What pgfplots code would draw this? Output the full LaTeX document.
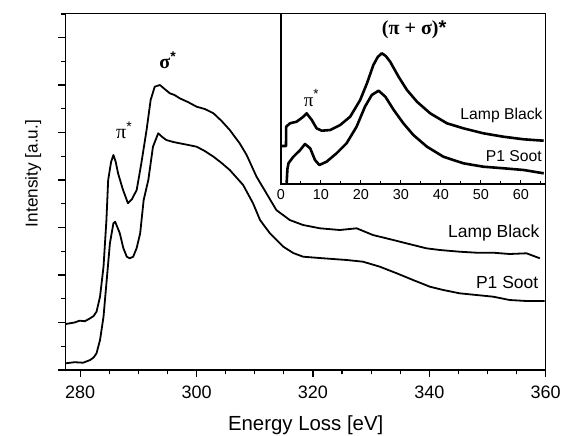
\documentclass[border=0pt]{standalone}
\usepackage{fontspec}
\setmainfont{Liberation Sans}
\newfontfamily\grk{Liberation Serif}
\usepackage{pgfplots}
\pgfplotsset{compat=1.18}

% main EELS spectra (x: energy loss in eV, y: intensity in arbitrary units)
\pgfplotstableread{
x y
277.5 46
279.0 47.5
279.9 49.3
280.8 48.8
281.7 51.7
282.3 54.0
282.8 58.3
283.4 73.3
284.0 103.3
284.5 150
284.8 190
285.3 208
285.7 215
286.1 208
286.5 196.7
287.3 181
288.2 166.7
288.9 171
289.7 180
290.5 206.7
291.4 240
292.1 270
292.8 283.3
293.7 285
294.5 281
295.4 276.7
296.2 275
297.1 271.7
298.5 268
300.0 263.3
301.4 261
302.9 256.7
304.3 249
305.7 240
307.4 226.7
308.6 215
310.3 193.3
312.0 176.7
313.7 160
316.0 150
318.3 145
321.2 141.7
324.6 140
327.5 141.7
330.3 135
333.8 130
337.2 125
339.5 121.7
341.8 120
345.2 118.3
348.1 117.3
351.0 117.3
353.8 116
356.7 116.7
359.0 111.7
}\lampblack

\pgfplotstableread{
x y
277.5 6.7
279.0 7.8
280.5 7.3
281.7 10
282.3 12.5
282.8 16.7
283.4 30
284.0 53.3
284.5 86.7
285.1 126.7
285.7 146.7
286.0 148.3
286.8 136.7
287.4 122
288.0 113.3
288.5 111.7
289.1 113.3
289.7 122
290.3 136.7
290.9 170
291.7 190
292.5 223.3
293.4 236.7
294.1 233
294.8 230
296.0 228
297.1 226.7
298.6 225
300.0 223.3
301.4 219
302.9 213.3
304.3 207
305.7 200
308.0 185
309.7 166.7
310.9 150
312.6 136.7
314.9 123.3
316.6 117
318.3 113.3
321.8 111.7
325.8 110
328.6 108.3
331.5 103.3
334.4 96.7
337.2 90
340.1 83.3
342.4 80
345.2 76.7
348.1 75
351.0 73.3
353.8 70
356.7 69
359.8 69
}\psoot

% inset: low-loss spectra
\pgfplotstableread{
x y
0.0 38
1.25 38
1.3 57.3
2.25 60.7
3.9 62.3
5.6 67.3
6.4 70.7
7.7 64
8.9 55.7
10.2 53.3
12.3 54
14.8 59
17.3 67.3
19.8 84
21.5 100.7
23.1 119
24.2 127
25.2 130.7
26.2 128
27.3 122.3
29.4 107.3
31.5 94
34.0 82.3
37.3 70.7
41.5 60.7
45.6 55.7
50.6 50.7
55.6 47.3
60.7 44.7
65.7 43.3
}\inlamp

\pgfplotstableread{
x y
1.4 0
1.6 15
1.9 21
3.1 27.3
4.8 34
6.0 40
7.3 35.7
8.5 24
9.6 19
11.4 22.3
13.9 30.7
16.4 40.7
18.9 57.3
21.0 77.3
22.7 89
24.4 93.3
26.1 87.3
28.2 74
30.6 60.7
33.1 49
36.5 37.3
40.6 27.3
45.6 20.7
50.6 17.3
55.7 15.7
60.7 14
65.7 10.7
}\insoot

\begin{document}
\begin{tikzpicture}
\useasboundingbox (-32.85pt,-32.5pt) rectangle (248.15pt,185pt);
\begin{axis}[
  at={(0pt,0pt)}, anchor=south west,
  scale only axis,
  width=240pt, height=178.35pt,
  xmin=277.5, xmax=360,
  ymin=0, ymax=356.7,
  xtick={280,300,...,360},
  minor xtick={285,290,295,305,310,315,325,330,335,345,350,355},
  ytick={0,47.5,95,142.5,190,237.5,285,332.5},
  minor ytick={23.75,71.25,118.75,166.25,213.75,261.25,308.75,356},
  yticklabels={},
  tick pos=left,
  tick align=outside,
  major tick length=3.6pt,
  minor tick length=2.2pt,
  axis line style={line width=0.75pt},
  every tick/.style={black, line width=0.6pt},
  /pgf/number format/assume math mode=true,
  /pgf/number format/1000 sep={},
  ticklabel style={font=\fontsize{9}{10}\selectfont},
  xticklabel style={yshift=-1pt},
  xlabel={Energy Loss [eV]},
  xlabel style={font=\fontsize{10.2}{12}\selectfont, at={(axis description cs:0.5,-0.154)}, anchor=center},
  ylabel={Intensity [a.u.]},
  ylabel style={font=\fontsize{8.6}{10}\selectfont, at={(axis description cs:-0.068,0.551)}, anchor=center},
  clip=false,
]
\addplot[black, line width=0.9pt, line join=round] table {\lampblack};
\addplot[black, line width=0.9pt, line join=round] table {\psoot};
\node[font=\fontsize{10}{12}\selectfont] at (axis cs:287.6,240) {{\grk π}\textsuperscript{*}};
\node[font=\fontsize{10}{12}\selectfont\bfseries] at (axis cs:295.1,310) {{\grk σ}\textsuperscript{*}};
\node[anchor=east, inner sep=0pt, font=\fontsize{8.75}{10}\selectfont] at (axis cs:359.0,137) {Lamp Black};
\node[anchor=east, inner sep=0pt, font=\fontsize{8.75}{10}\selectfont] at (axis cs:358.8,87.3) {P1 Soot};
\end{axis}

\begin{axis}[
  at={(107.65pt,93pt)}, anchor=south west,
  scale only axis,
  width=132.35pt, height=85.35pt,
  xmin=0, xmax=66.2,
  ymin=0, ymax=170.7,
  xtick={0,10,20,30,40,50,60},
  minor xtick={5,15,25,35,45,55,65},
  ymajorticks=false,
  yminorticks=false,
  xtick pos=left,
  tick align=inside,
  major tick length=2pt,
  minor tick length=1.5pt,
  axis line style={line width=0.75pt},
  every tick/.style={black, line width=0.5pt},
  /pgf/number format/assume math mode=true,
  ticklabel style={font=\fontsize{7.2}{8}\selectfont},
  xticklabel style={yshift=1pt},
  clip=false,
]
\addplot[black, line width=1.3pt, line join=round] table {\inlamp};
\addplot[black, line width=1.3pt, line join=round] table {\insoot};
\node[font=\fontsize{10}{12}\selectfont\bfseries] at (axis cs:33.3,154) {{\grk (π + σ)}*};
\node[font=\fontsize{9.5}{11}\selectfont] at (axis cs:7.7,86) {{\grk π}\textsuperscript{*}};
\node[anchor=east, inner sep=0pt, font=\fontsize{7.85}{9}\selectfont] at (axis cs:65.5,69) {Lamp Black};
\node[anchor=east, inner sep=0pt, font=\fontsize{7.85}{9}\selectfont] at (axis cs:65.3,28) {P1 Soot};
\end{axis}
\end{tikzpicture}
\end{document}
